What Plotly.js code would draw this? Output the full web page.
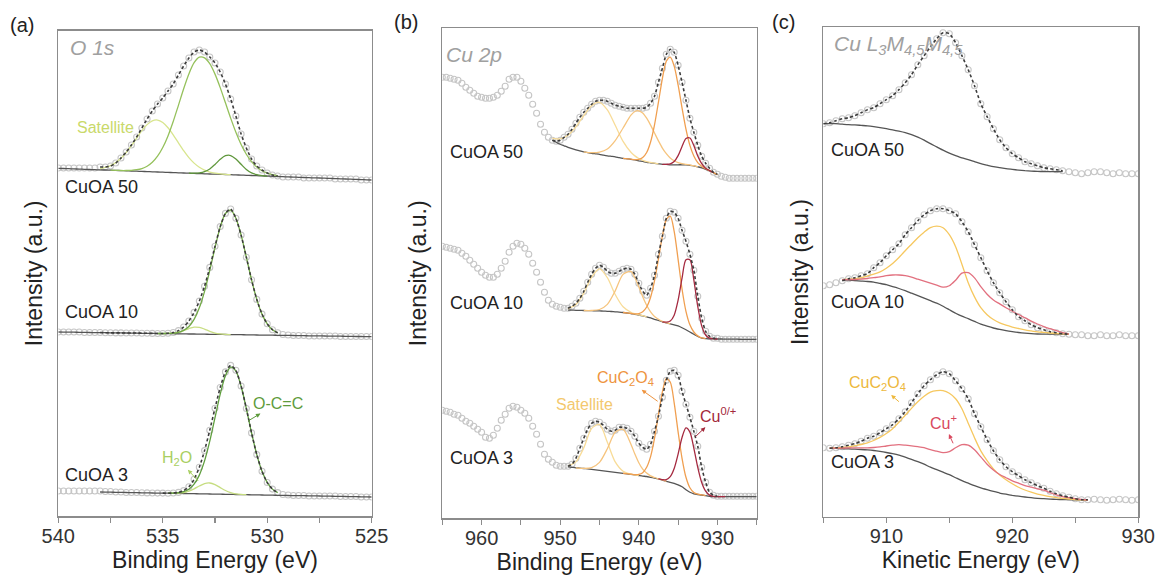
<!DOCTYPE html>
<html><head><meta charset="utf-8">
<script src="https://cdn.plot.ly/plotly-3.0.1.min.js"></script>
<style>html,body{margin:0;padding:0;background:#fff}#chart{width:1159px;height:583px}</style>
</head><body><div id="chart"></div>
<script>
// ================= Panel (a) O 1s : binding energy grid (eV) =================
const aEnergy = [540,539.75,539.5,539.25,539,538.75,538.5,538.25,538,537.75,537.5,537.25,537,536.75,536.5,536.25,536,535.75,535.5,535.25,535,534.75,534.5,534.25,534,533.75,533.5,533.25,533,532.75,532.5,532.25,532,531.75,531.5,531.25,531,530.75,530.5,530.25,530,529.75,529.5,529.25,529,528.75,528.5,528.25,528,527.75,527.5,527.25,527,526.75,526.5,526.25,526,525.75,525.5,525.25,525];
const aFitEnergy = [538,537.75,537.5,537.25,537,536.75,536.5,536.25,536,535.75,535.5,535.25,535,534.75,534.5,534.25,534,533.75,533.5,533.25,533,532.75,532.5,532.25,532,531.75,531.5,531.25,531,530.75,530.5,530.25,530,529.75,529.5];

// CuOA 50 (top)
const a50Data = [348,348,348,348,348,348,348,348,349,349,350,353,358,364,371,379,388,397,405,412,418,425,432,441,450,458,464,466,464,459,453,444,432,417,400,382,368,357,350,346,343,341,340,339,339,339,339,338,338,338,338,338,338,337,337,337,337,337,336,336,336];
const a50Base = [347.7,347.5,347.3,347.1,346.9,346.7,346.5,346.4,346.1,346,345.8,345.6,345.4,345.2,345,344.8,344.6,344.4,344.2,344,343.8,343.6,343.4,343.2,343,342.8,342.6,342.4,342.2,342,341.9,341.7,341.5,341.3,341.1,340.9,340.7,340.5,340.3,340.1,339.9,339.7,339.5,339.3,339.1,338.9,338.7,338.5,338.3,338.1,338,337.8,337.6,337.4,337.2,337,336.8,336.6,336.4,336.2,336];
const a50Satellite = [1.4,2.6,4.6,7.8,12.3,18.2,25.3,33.1,40.7,47,51,52,49.7,44.7,37.8,30,22.3,15.6,10.3,6.4,3.7,2,1,0.5,0.2,0,0,0,0,0,0,0,0,0,0];
const a50Main = [0,0,0,0.1,0.1,0.3,0.7,1.5,2.9,5.4,9.5,15.8,24.7,36.5,51.1,67.5,84.3,99.3,110.7,116.5,116,110.3,100,86.7,71.7,56.6,42.7,30.7,21.1,13.9,8.7,5.2,3,1.6,0.8];
const a50Minor = [0,0,0,0,0,0,0,0,0,0,0,0,0,0,0,0,0,0,0.2,0.8,2.2,5.1,9.7,15,18.8,19.2,15.9,10.8,5.9,2.6,1,0.3,0,0,0];

// CuOA 10 (middle)
const a10Data = [184,184,184,184,184,183.5,183.5,183.5,183.5,183.3,183.2,183.1,183.1,183,183,183,182.7,182.7,182.6,182.5,182.5,182.8,183.5,185.4,189,195,203.6,214.9,229.8,248.6,269.7,289.4,302.6,307,297.8,280.9,258.8,236.2,216.6,201.9,192.2,186.3,183.2,181.5,181,180.5,180.5,180.5,180,180,180,180,180,180,179.5,179.5,179.5,179.5,179.5,179.5,179.5];
const a10Base = [184,183.9,183.8,183.8,183.7,183.6,183.5,183.4,183.4,183.3,183.2,183.1,183.1,183,182.9,182.8,182.7,182.7,182.6,182.5,182.4,182.4,182.3,182.2,182.1,182,182,181.9,181.8,181.7,181.6,181.6,181.5,181.4,181.3,181.3,181.2,181.1,181,180.9,180.9,180.8,180.7,180.6,180.6,180.5,180.4,180.3,180.2,180.2,180.1,180,179.9,179.8,179.8,179.7,179.6,179.5,179.5,179.4,179.3];
const a10Main = [0,0,0,0,0,0,0,0,0,0,0,0,0.1,0.2,0.6,1.5,3.5,7.5,14.7,26.3,42.9,63.9,86.7,107.3,121,124.4,116.5,99.6,77.6,55.1,35.6,21,11.3,5.5,2.5];
const a10Water = [0,0,0,0,0,0,0,0,0,0,0,0,0,0.2,0.6,1.7,3.4,5.5,6.9,6.7,5.1,3,1.4,0.5,0.1,0,0,0,0,0,0,0,0,0,0];

// CuOA 3 (bottom)
const a3Data = [25,25,25,25,25,25,25,25,25,24.5,24.5,24,24,23.5,23.5,23.5,23.2,23.1,23,22.9,22.9,22.8,23,23.6,25.4,29.2,36.7,48.7,65.4,85.8,107.8,128.5,144.1,150.6,145.7,130,107.5,83.1,61.4,44.7,33.5,26.9,23.4,21.5,21,20.5,20.5,20.5,20,20,20,20,20,20,19.5,19.5,19.5,19.5,19,19,19];
const a3Base = [null,null,null,null,null,null,null,null,24,23.9,23.8,23.7,23.6,23.5,23.4,23.3,23.2,23.1,23,22.9,22.9,22.8,22.7,22.6,22.5,22.4,22.3,22.2,22.1,22,21.9,21.8,21.7,21.6,21.5,21.4,21.3,21.2,21.1,21,20.9,20.8,20.7,20.6,20.5,20.4,20.3,20.3,20.2,20.1,20,19.9,19.8,19.7,19.6,19.5,19.4,19.3,19.2,19.1,19];
const a3Main = [0,0,0,0,0,0,0,0,0,0,0,0,0,0,0.2,0.7,1.9,4.4,9.5,18.7,33,52.8,76.4,100.1,118.6,127.2,123.5,108.4,86.2,61.9,40.3,23.7,12.6,6.1,2.7];
const a3Water = [0,0,0,0,0,0,0,0,0,0,0,0,0,0,0.1,0.3,1,2.4,4.9,7.8,10.3,11,9.5,6.6,3.8,1.8,0.7,0.2,0,0,0,0,0,0,0];

// ================= Panel (b) Cu 2p =================
const bEnergy = [965,964.5,964,963.5,963,962.5,962,961.5,961,960.5,960,959.5,959,958.5,958,957.5,957,956.5,956,955.5,955,954.5,954,953.5,953,952.5,952,951.5,951,950.5,950,949.5,949,948.5,948,947.5,947,946.5,946,945.5,945,944.5,944,943.5,943,942.5,942,941.5,941,940.5,940,939.5,939,938.5,938,937.5,937,936.5,936,935.5,935,934.5,934,933.5,933,932.5,932,931.5,931,930.5,930,929.5,929,928.5,928,927.5,927,926.5,926,925.5,925];
const bFitEnergy = [951,950,949,948,947,946,945,944,943,942,941,940.5,940,939.5,939,938.5,938,937.5,937,936.5,936,935.5,935,934.5,934,933.5,933,932.5,932,931.5,931,930.5,930,929,928,927,926,925];

const b50Data = [441,441,440,439,438,435,431,428,425,422,421,420,420,421,423,427,432,439,441,441,437,430,423,414,405,394,386,381,378,377,378,381,384,389,395,401,406,410,414,417,418,418,417,415,413,412,411,410,410,410,410,410,411,415,422,436,450,464,469,466,453,436,418,400,386,373,362,355,350,346,344,342,341,340,340,340,340,340,340,340,340];
const b50Base = [null,null,null,null,null,null,null,null,null,null,null,null,null,null,null,null,null,null,null,null,null,null,null,null,null,null,null,null,378,376,374,372.5,371,369.7,368.5,367.5,366.5,365.7,365,364.5,364,363.2,362.5,362,361.5,360.7,360,359.5,359,358.3,357.5,356.8,356,355.5,355,354.5,354,353.8,353.5,353.5,353.5,353.5,353.3,353,352.5,351.5,350.5,349,347.5,345.5,343.5,null,null,null,null,null,null,null,null,null,null];
const b50Sat1 = [2,5.4,12.1,22.9,36.2,47.5,52,45.9,31.5,16.9,7,4.1,2.3,1.2,0.6,0.3,0.1,0,0,0,0,0,0,0,0,0,0,0,0,0,0,0,0,null,null,null,null,null];
const b50Sat2 = [0,0,0,0,0,0.6,2.2,6.8,16.2,30.3,44.1,48.5,50,48.5,44.1,37.7,30.3,22.9,16.2,10.8,6.8,4,2.2,1.1,0.6,0.3,0.1,0,0,0,0,0,0,null,null,null,null,null];
const b50Oxalate = [0,0,0,0,0,0,0,0,0,0,0.1,0.4,1.4,4,9.8,20.8,38.5,61.7,85.7,103.2,107.7,98.7,79.8,56.9,35.9,19.9,9.8,4.2,1.6,0.5,0.2,0.1,0,null,null,null,null,null];
const b50Cu = [0,0,0,0,0,0,0,0,0,0,0,0,0,0,0,0,0,0,0,0.2,0.8,3.2,9.1,18.3,26.4,27.3,20.2,10.7,4.1,1.1,0.2,0,0,null,null,null,null,null];

const b10Data = [272,271,270,269,268,265,262,258,254,250,246,243,241,241,244,250,257,266,272,275,274,270,264,255,246,236,226,218,214,212,211,210,210,212,215,220,227,236,244,250,253,251,247,245,245,247,249,250,249,244,235,227,223,230,243,264,282,300,307,306,300,288,277,264,248,222,200,187,182,180,180,179,179,179,179,179,179,179,179,179,179];
const b10Base = [null,null,null,null,null,null,null,null,null,null,null,null,null,null,null,null,null,null,null,null,null,null,null,null,null,null,null,null,null,null,null,null,208.3,208.2,208,207.9,207.8,207.7,207.6,207.5,207.4,207.2,207,206.8,206.5,206.2,205.8,205.3,204.8,204,203.3,202.5,201.5,200.3,199,197.8,196.5,195.5,194.5,193.4,192.3,190.5,188.5,186.3,184,181.8,180.2,179.7,179.5,179.4,179.3,179.3,179.2,179.2,179.1,179.1,179,179,179,179,179];
const b10Sat1 = [null,null,1.2,5.7,17.3,33.6,42,33.6,17.3,5.7,1.2,0.5,0.2,0.1,0,0,0,0,0,0,0,0,0,0,0,0,0,0,0,0,0,0,0,0,0,0,0,0];
const b10Sat2 = [null,null,0,0,0,0.2,1.4,6.9,20.9,38.1,42,36.6,28.2,19.1,11.5,6.1,2.8,1.2,0.4,0.1,0,0,0,0,0,0,0,0,0,0,0,0,0,0,0,0,0,0];
const b10Oxalate = [null,null,0,0,0,0,0,0,0,0,0.1,0.4,1.4,4,9.8,20.8,38.5,61.7,85.7,103.2,107.6,93.5,66.6,38.8,18.5,7.2,2.3,0.6,0.1,0,0,0,0,0,0,0,0,0];
const b10Cu = [null,null,0,0,0,0,0,0,0,0,0,0,0,0,0,0,0,0,0,0.6,2.7,9.7,25.8,49.7,70,72.2,54.5,30.1,12.2,3.6,0.7,0.1,0,0,0,0,0,0];

const b3Data = [108,107,106,104,103,100,97,95,92,89,86,81,80,83,90,98,104,110,112,111,108,105,100,92,84,74,64,59,56,53,52,52,52,54,60,70,80,89,95,97,96,93,89,87,88,91,91,90,87,82,75,71,69,74,87,102,121,138,147,148,143,127,114,101,87,72,51,36,26,23,22,22,22,22,22,22,22,22,22,22,22];
const b3Base = [null,null,null,null,null,null,null,null,null,null,null,null,null,null,null,null,null,null,null,null,null,null,null,null,null,null,null,null,null,null,null,null,51.5,51,50.5,50.2,49.8,49.4,49,48.5,48,47.5,47,46.5,46,45.5,45,44.5,44,43.4,42.8,42.2,41.8,41,40.2,39.3,38.2,37,36,35,33.5,31.5,28.5,26,24.5,23.8,23.3,22.6,22,21.7,21.6,21.6,21.6,21.6,21.6,21.6,21.6,21.6,21.6,21.6,21.6];
const b3Sat1 = [null,null,0.9,5.9,20.6,40.9,45.8,29,10.4,2.1,0.2,0.1,0,0,0,0,0,0,0,0,0,0,0,0,0,0,0,0,0,0,0,0,0,0,0,0,0,0];
const b3Sat2 = [null,null,0,0,0.2,1.7,7.9,22.6,40,44,30.1,20.8,12.8,7,3.4,1.4,0.6,0.2,0.1,0,0,0,0,0,0,0,0,0,0,0,0,0,0,0,0,0,0,0];
const b3Oxalate = [null,null,0,0,0,0,0,0,0,0,0.1,0.3,1.1,3.4,9.2,20.7,39.7,64.4,88.3,102.6,100.3,80.5,52.9,28.5,12.5,4.5,1.3,0.3,0.1,0,0,0,0,0,0,0,0,0];
const b3Cu = [null,null,0,0,0,0,0,0,0,0,0,0,0,0,0,0,0,0,0.4,1.6,5.6,14.8,30.7,49.3,61.8,60.2,45.7,27.1,12.5,4.5,1.2,0.3,0.1,0,0,0,0,0];

// ================= Panel (c) Cu LMM : kinetic energy grid (eV) =================
const cEnergy = [905,905.5,906,906.5,907,907.5,908,908.5,909,909.5,910,910.5,911,911.5,912,912.5,913,913.5,914,914.5,915,915.5,916,916.5,917,917.5,918,918.5,919,919.5,920,920.5,921,921.5,922,922.5,923,923.5,924,924.5,925,925.5,926,926.5,927,927.5,928,928.5,929,929.5,930];

const c50Data = [393,394,396,398,399,401,404,407,409,413,417,421,427,434,442,452,461,470,478,484,483,474,461,447,431,413,400,388,377,369,363,359,355,353,351,349,348,347,346,345,344,343,344,345,345,344,343,344,343,343,343];
const c50Base = [393,393,393,392.5,392,391.8,391.3,390.8,390,389,388,386.8,385.5,384,382,379.5,376.5,373,369.8,366.5,363.5,361,358.7,357,355,353,351.5,350,349,348,347.3,346.6,346,345.6,345.3,345.1,345,345,345,null,null,null,null,null,null,null,null,null,null,null,null];

const c10Data = [231,232,234,236,238,239,241,243,249,254,261,267,273,282,289,296,302,306,308,308,306,303,295,285,272,259,246,234,224,215,207,200,196,192,189,187,185,184,183,182.5,182,182,181,181,182,181,181,182,181,181,181];
const c10Base = [null,null,null,237,236.5,236,235.6,235.2,234.5,233.3,232,230.2,228.2,226,223.5,221,218.5,216,213.5,210.5,207,203.5,200.5,198,195.3,192.5,190.5,188.7,187.3,186,185,184.2,183.5,183,182.7,182.6,182.5,182.5,182.5,182.5,null,null,null,null,null,null,null,null,null,null,null];
const c10Oxalate = [null,null,null,0,1,2,3.5,5.5,8,11.5,16.5,23,31,40,49,58,66,73,77,78.5,75,66.5,52,36,24.5,16.5,11.5,8.5,6.5,5.5,4.7,4,3.3,2.8,2.2,1.7,1.2,0.7,0.3,0,null,null,null,null,null,null,null,null,null,null,null];
const c10CuI = [null,null,null,0,0.5,1.2,2,3,4.5,6.5,9,11.5,13.5,15,16,16.5,17,17.5,18,19,24,33,43,46,43.5,37.5,32,28,25.5,23,20.5,18,15.5,12.5,10,7.5,5.5,3.5,1.5,0,null,null,null,null,null,null,null,null,null,null,null];

const c3Data = [69,68.5,69,70,71.5,73,75.5,78.5,80.5,84,88,92,98,105,114,123,131,137,142,145,143,136,128,118,103,90,77,66,57,50,45,41,37,34,31,28.5,25.5,23,21,19.5,18,17,17,17.5,17,16.5,17,17.5,17,16.5,17];
const c3Base = [null,68.5,68.3,68,67.8,67.5,67.2,66.8,66.2,65.3,64.2,63,61.5,59.5,57.3,55,52.5,49.5,47,44.5,42,39,36,33.5,31,28.8,27,25.3,23.7,22.5,21.4,20.5,19.7,19,18.4,18,17.6,17.3,17.1,17,16.9,16.8,16.7,null,null,null,null,null,null,null,null];
const c3Oxalate = [null,0,0.5,1.2,2,3.5,5,7,10,14,19,25,33,42,51,60,68,75,79,81.5,81.5,79,72,60,48,37,29,22.5,18,14.5,11.5,9,7,5.5,4.3,3.3,2.5,1.8,1.2,0.7,0.3,0.1,0,null,null,null,null,null,null,null,null];
const c3CuI = [null,0,0.3,0.6,1,1.3,1.6,2,3,4.5,6.5,8.5,10.5,12,13.5,15,16.5,17.5,18.5,19.5,23,30,36,38,36,31,25.5,21.5,18.5,16.5,14.5,13,11.5,10.5,9.5,8.5,6.5,4.5,3,2,1.2,0.5,0,null,null,null,null,null,null,null,null];

// ================= Build figure =================
const FONT = 'Liberation Sans, Arial, Helvetica, sans-serif';
const traces = [];

function addSpectrum(xa, ya, grid, data, base, fitGrid, comps, fitA, fitB) {
  traces.push({type:'scatter', mode:'markers', x:grid, y:data, xaxis:xa, yaxis:ya,
    marker:{symbol:'circle-open', size:6, color:'#c6c6c6', line:{width:1.1}}, hoverinfo:'skip', showlegend:false});
  const bx = [], by = [];
  grid.forEach((e,i)=>{ if (base[i] !== null) { bx.push(e); by.push(base[i]); } });
  traces.push({type:'scatter', mode:'lines', x:bx, y:by, xaxis:xa, yaxis:ya,
    line:{color:'#555555', width:1.3, shape:'spline', smoothing:0.6}, hoverinfo:'skip', showlegend:false});
  const pos = new Map(); grid.forEach((e,i)=>pos.set(e,i));
  comps.forEach(c => {
    let first=-1, last=-1;
    c.h.forEach((v,i)=>{ if (v !== null && v > 0.05) { if (first < 0) first = i; last = i; } });
    const s = Math.max(0, first-1), e = Math.min(c.h.length-1, last+1);
    const xs = [], ys = [];
    for (let i=s; i<=e; i++) {
      if (c.h[i] === null) continue;
      const b = base[pos.get(fitGrid[i])];
      if (b === null || b === undefined) continue;
      xs.push(fitGrid[i]); ys.push(b + c.h[i]);
    }
    traces.push({type:'scatter', mode:'lines', x:xs, y:ys, xaxis:xa, yaxis:ya,
      line:{color:c.color, width:1.3, shape:'spline', smoothing:0.8}, hoverinfo:'skip', showlegend:false});
  });
  const lo = Math.min(fitA, fitB), hi = Math.max(fitA, fitB);
  const ex = [], ey = [];
  grid.forEach((e,i)=>{ if (e >= lo && e <= hi) { ex.push(e); ey.push(data[i]); } });
  traces.push({type:'scatter', mode:'lines', x:ex, y:ey, xaxis:xa, yaxis:ya,
    line:{color:'#3c3c3c', width:1.6, dash:'3px,2.5px', shape:'spline', smoothing:0.6}, hoverinfo:'skip', showlegend:false});
}

// Panel a
addSpectrum('x','y', aEnergy, a50Data, a50Base, aFitEnergy, [
  {h:a50Satellite, color:'#d8e58e'}, {h:a50Main, color:'#95c15c'}, {h:a50Minor, color:'#5f973c'}], 538, 529.5);
addSpectrum('x','y', aEnergy, a10Data, a10Base, aFitEnergy, [
  {h:a10Water, color:'#c9de84'}, {h:a10Main, color:'#72aa46'}], 538, 529.5);
addSpectrum('x','y', aEnergy, a3Data, a3Base, aFitEnergy, [
  {h:a3Water, color:'#c6dd80'}, {h:a3Main, color:'#5f9e3e'}], 535, 529.5);
// Panel b
addSpectrum('x2','y2', bEnergy, b50Data, b50Base, bFitEnergy, [
  {h:b50Sat1, color:'#f8dc98'}, {h:b50Sat2, color:'#f6c47e'}, {h:b50Oxalate, color:'#f09f50'}, {h:b50Cu, color:'#a52a40'}], 951, 930);
addSpectrum('x2','y2', bEnergy, b10Data, b10Base, bFitEnergy, [
  {h:b10Sat1, color:'#f8dc98'}, {h:b10Sat2, color:'#f6c47e'}, {h:b10Oxalate, color:'#f09f50'}, {h:b10Cu, color:'#a52a40'}], 949, 930);
addSpectrum('x2','y2', bEnergy, b3Data, b3Base, bFitEnergy, [
  {h:b3Sat1, color:'#f8dc98'}, {h:b3Sat2, color:'#f6c47e'}, {h:b3Oxalate, color:'#f09f50'}, {h:b3Cu, color:'#a52a40'}], 949, 930);
// Panel c
addSpectrum('x3','y3', cEnergy, c50Data, c50Base, cEnergy, [], 905, 924);
addSpectrum('x3','y3', cEnergy, c10Data, c10Base, cEnergy, [
  {h:c10Oxalate, color:'#f6c860'}, {h:c10CuI, color:'#e2707f'}], 906.5, 924.5);
addSpectrum('x3','y3', cEnergy, c3Data, c3Base, cEnergy, [
  {h:c3Oxalate, color:'#f6c860'}, {h:c3CuI, color:'#e2707f'}], 905.5, 926);

const frame = '#8c8c8c';
function xAxis(dom, range, dtick, minor, title, anchor) {
  return {domain:dom, range:range, anchor:anchor, showline:true, mirror:true, linecolor:frame, linewidth:1.5,
    ticks:'outside', ticklen:5, tickwidth:1.2, tickcolor:frame, dtick:dtick, ticklabelstandoff:-4,
    minor:{dtick:minor, ticks:'outside', ticklen:5, tickwidth:1.2, tickcolor:frame},
    showgrid:false, zeroline:false, tickfont:{family:FONT, size:20, color:'#333'},
    title:{text:title, font:{family:FONT, size:23, color:'#222'}, standoff:3}};
}
function yAxis(dom, range, anchor) {
  return {domain:dom, range:range, anchor:anchor, showline:true, mirror:true, linecolor:frame, linewidth:1.5,
    ticks:'', showticklabels:false, tickvals:[], showgrid:false, zeroline:false,
    title:{text:'Intensity (a.u.)', font:{family:FONT, size:23, color:'#222'}, standoff:7}};
}

const lbl = (x,y,xr,yr,text,color,size,anchor,style) => ({x:x, y:y, xref:xr, yref:yr, text:text, showarrow:false,
  xanchor:anchor||'center', yanchor:'middle', font:{family:FONT, size:size, color:color, style:style||'normal'}});
// label whose arrow starts on a curve point (x,y) and points at the label placed at (ax,ay)
const tagged = (x,y,ax,ay,xr,yr,text,color) => ({x:x, y:y, ax:ax, ay:ay, xref:xr, yref:yr, axref:xr, ayref:yr,
  text:text, showarrow:true, arrowside:'start', startarrowhead:2, startarrowsize:0.9, arrowwidth:1,
  arrowcolor:color, standoff:0, startstandoff:1, font:{family:FONT, size:16, color:color}});

const annotations = [
  lbl(0.019,0.957,'paper','paper','(a)','#222',20),
  lbl(0.350,0.962,'paper','paper','(b)','#222',20),
  lbl(0.676,0.962,'paper','paper','(c)','#222',20),
  lbl(0.031,0.966,'x domain','y domain','O 1s','#a0a0a0',21,'left','italic'),
  lbl(0.005,0.946,'x2 domain','y2 domain','Cu 2p','#a0a0a0',21,'left','italic'),
  lbl(0.028,0.964,'x3 domain','y3 domain','Cu L<sub>3</sub>M<sub>4,5</sub>M<sub>4,5</sub>','#a0a0a0',21,'left','italic'),
  // panel a
  lbl(537.72,389,'x','y','Satellite','#c9d96a',16),
  lbl(539.78,329,'x','y','CuOA 50','#222',18,'left'),
  lbl(539.78,204,'x','y','CuOA 10','#222',18,'left'),
  lbl(539.78,41,'x','y','CuOA 3','#222',18,'left'),
  tagged(533.3,35,534.32,58,'x','y','H<sub>2</sub>O','#a9cf62'),
  tagged(530.92,95,529.49,113,'x','y','O-C=C','#5e9b3c'),
  // panel b
  lbl(964.28,366.6,'x2','y2','CuOA 50','#222',18,'left'),
  lbl(964.28,215,'x2','y2','CuOA 10','#222',18,'left'),
  lbl(964.28,60,'x2','y2','CuOA 3','#222',18,'left'),
  lbl(946.9,113.3,'x2','y2','Satellite','#f3c86e',16),
  tagged(937.6,117,941.7,140,'x2','y2','CuC<sub>2</sub>O<sub>4</sub>','#ee9440'),
  tagged(932.8,81.6,929.9,103.3,'x2','y2','Cu<sup>0/+</sup>','#a3283a'),
  // panel c
  lbl(905.48,366.7,'x3','y3','CuOA 50','#222',18,'left'),
  lbl(905.48,215,'x3','y3','CuOA 10','#222',18,'left'),
  lbl(905.48,55,'x3','y3','CuOA 3','#222',18,'left'),
  tagged(911,115,909.31,133.4,'x3','y3','CuC<sub>2</sub>O<sub>4</sub>','#edb83c'),
  tagged(915.3,73.4,914.52,95,'x3','y3','Cu<sup>+</sup>','#d9485e')
];

const layout = {
  width:1159, height:583, margin:{l:0, r:0, t:0, b:0}, paper_bgcolor:'#fff', plot_bgcolor:'#fff',
  showlegend:false, font:{family:FONT, color:'#222'},
  xaxis: xAxis([0.0503,0.3207],[540,525],5,2.5,'Binding Energy (eV)','y'),
  yaxis: yAxis([0.1149,0.9473],[0,485.3],'x'),
  xaxis2: xAxis([0.3816,0.6529],[965,925],10,5,'Binding Energy (eV)','y2'),
  yaxis2: yAxis([0.1110,0.9515],[0,490],'x2'),
  xaxis3: xAxis([0.7104,0.9821],[905,930],10,5,'Kinetic Energy (eV)','y3'),
  yaxis3: yAxis([0.1137,0.9532],[0,489.4],'x3'),
  annotations: annotations
};
Plotly.newPlot('chart', traces, layout, {staticPlot:true, displayModeBar:false});
</script>
</body></html>
